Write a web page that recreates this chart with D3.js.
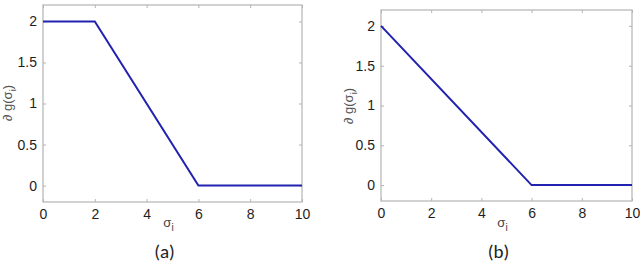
<!DOCTYPE html>
<html>
<head>
<meta charset="utf-8">
<script src="https://cdn.jsdelivr.net/npm/d3@7"></script>
<style>
  body { margin: 0; background: #fff; }
  svg { display: block; }
  text { font-family: "Liberation Sans", Arial, sans-serif; }
</style>
</head>
<body>
<div id="chart"></div>
<script>
//////////////////////////// data /////////////////////////////////////////

const xTicks = [0, 2, 4, 6, 8, 10];
const yTicks = [0, 0.5, 1, 1.5, 2];
const panelNames = ["(a)", "(b)"];

// panel (a): flat, then ramp down, then flat
const sigmaA = [0, 2, 6, 10];
const gradA = [2, 2, 0, 0];

// panel (b): ramp down from start, then flat
const sigmaB = [0, 6, 10];
const gradB = [2, 0, 0];

//////////////////////////// drawing /////////////////////////////////////

const svg = d3.select("#chart").append("svg")
	.attr("width", 640)
	.attr("height", 265);

const drawPanel = (sigma, grad, name, box) => {
	const x = d3.scaleLinear().domain([0, 10]).range([box.left, box.right]);
	const y = d3.scaleLinear().domain([-0.2, 2.2]).range([box.bottom, box.top]);

	const g = svg.append("g");

	// frame
	g.append("rect")
		.attr("x", box.left)
		.attr("y", box.top)
		.attr("width", box.right - box.left)
		.attr("height", box.bottom - box.top)
		.attr("fill", "none")
		.attr("stroke", "#b4b4b4")
		.attr("stroke-width", 1.2);

	// axes with inward ticks (matlab style)
	const fmt = (d) => String(d);
	g.append("g")
		.attr("transform", `translate(0,${box.bottom})`)
		.call(d3.axisBottom(x).tickValues(xTicks).tickSize(-3).tickPadding(7).tickFormat(fmt));
	g.append("g")
		.attr("transform", `translate(${box.left},0)`)
		.call(d3.axisLeft(y).tickValues(yTicks).tickSize(-3).tickPadding(6).tickFormat(fmt));
	// mirrored ticks top/right
	g.append("g")
		.attr("transform", `translate(0,${box.top})`)
		.call(d3.axisTop(x).tickValues(xTicks).tickSize(-3).tickFormat(""));
	g.append("g")
		.attr("transform", `translate(${box.right},0)`)
		.call(d3.axisRight(y).tickValues(yTicks).tickSize(-3).tickFormat(""));

	g.selectAll(".domain").remove();
	g.selectAll(".tick line").attr("stroke", "#b4b4b4");
	g.selectAll(".tick text")
		.attr("fill", "#1e1e1e")
		.style("font-family", "'Liberation Sans', Arial, sans-serif")
		.style("font-size", "14px");

	// curve
	const pts = sigma.map((s, i) => [s, grad[i]]);
	g.append("path")
		.datum(pts)
		.attr("fill", "none")
		.attr("stroke", "#2222b0")
		.attr("stroke-width", 2)
		.attr("d", d3.line().x((d) => x(d[0])).y((d) => y(d[1])));

	// x label: sigma_i
	const xl = g.append("text")
		.attr("x", (box.left + box.right) / 2 - 4)
		.attr("y", 227)
		.attr("text-anchor", "middle")
		.attr("fill", "#444")
		.style("font-size", "13px");
	xl.append("tspan").text("σ");
	xl.append("tspan").attr("dy", 4).style("font-size", "10px").text("i");

	// y label: ∂ g(sigma_i)
	const yl = g.append("text")
		.attr("transform", `translate(${box.ylabX},${box.ylabY}) rotate(-90)`)
		.attr("text-anchor", "middle")
		.attr("fill", "#555")
		.style("font-size", "13px");
	yl.append("tspan").text("∂ g(σ");
	yl.append("tspan").attr("dy", 4).style("font-size", "9px").text("i");
	yl.append("tspan").attr("dy", -4).text(")");

	// panel name
	g.append("text")
		.attr("x", (box.left + box.right) / 2 - 8)
		.attr("y", 258)
		.attr("text-anchor", "middle")
		.attr("fill", "#222")
		.style("font-family", "Carlito, Calibri, 'Open Sans', sans-serif")
		.style("font-size", "19px")
		.text(name);
};

drawPanel(sigmaA, gradA, panelNames[0],
	{ left: 43, right: 302, top: 5, bottom: 202, ylabX: 12, ylabY: 103 });
drawPanel(sigmaB, gradB, panelNames[1],
	{ left: 381, right: 632, top: 10, bottom: 201, ylabX: 353, ylabY: 106 });
</script>
</body>
</html>
